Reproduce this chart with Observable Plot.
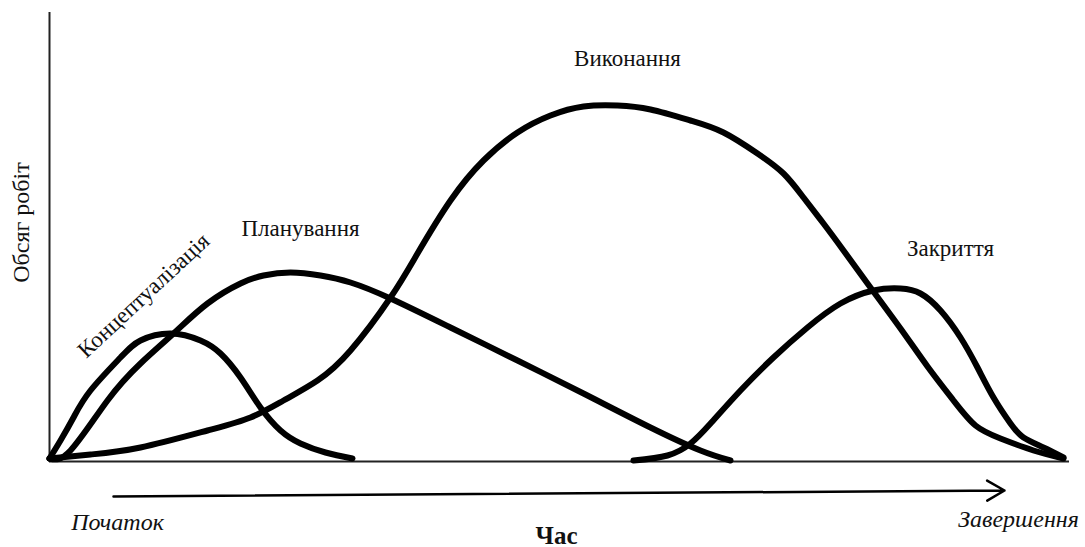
<!DOCTYPE html>
<html>
<head>
<meta charset="utf-8">
<script src="https://cdn.jsdelivr.net/npm/d3@7"></script>
<script src="https://cdn.jsdelivr.net/npm/@observablehq/plot@0.6"></script>
<style>
  html, body { margin: 0; padding: 0; background: #fff; }
  #chart svg { display: block; }
</style>
</head>
<body>
<div id="chart"></div>
<script>
// Phase names
const phases = ["Концептуалізація", "Планування", "Виконання", "Закриття"];

// Time (x) and work volume (y), arbitrary units
const conceptT = [0, 11, 24, 41, 71, 91, 121, 151, 171, 191, 211, 231, 251, 276, 303];
const conceptV = [3, 21, 44, 71, 104, 121, 128, 121, 108, 84, 54, 31, 18, 9, 3];

const planT = [0, 21, 58, 91, 124, 158, 191, 214, 241, 271, 301, 341, 401, 468, 534, 601, 651, 681];
const planV = [3, 11, 61, 98, 128, 158, 178, 186, 189, 186, 179, 163, 134, 101, 68, 34, 11, 1];

const execT = [0, 41, 91, 158, 201, 234, 268, 301, 341, 368, 401, 434, 468, 501, 534, 568, 601, 641, 674, 708, 734, 754, 774, 794, 818, 851, 878, 904, 926, 951, 984, 1014];
const execV = [3, 7, 14, 31, 44, 61, 81, 111, 164, 208, 261, 301, 329, 346, 355, 356, 352, 341, 329, 308, 288, 264, 238, 211, 178, 133, 95, 61, 36, 23, 11, 3];

const closeT = [584, 618, 641, 661, 691, 724, 758, 791, 824, 851, 871, 891, 911, 928, 944, 961, 974, 994, 1014];
const closeV = [1, 6, 18, 38, 71, 104, 134, 158, 171, 173, 168, 151, 124, 94, 64, 38, 24, 14, 4];

// Axis texts
const yTitle = "Обсяг робіт";
const xTitle = "Час";
const startLabel = "Початок";
const endLabel = "Завершення";

// Build a long table for the library
const series = [
  [phases[0], conceptT, conceptV],
  [phases[1], planT, planV],
  [phases[2], execT, execV],
  [phases[3], closeT, closeV]
];
const rows = series.flatMap(([name, ts, vs]) => ts.map((t, i) => ({phase: name, t, v: vs[i]})));

// Label anchors (annotation layout)
const phaseLabels = [
  {text: phases[2], x: 578, y: 403, rotate: 0},
  {text: phases[1], x: 251, y: 233, rotate: 0},
  {text: phases[3], x: 901, y: 213, rotate: 0},
  {text: phases[0], x: 94, y: 166, rotate: -43}
];

const serif = "'Liberation Serif', 'Times New Roman', serif";

const chart = Plot.plot({
  width: 1085,
  height: 547,
  marginLeft: 49,
  marginRight: 16,
  marginTop: 11,
  marginBottom: 86,
  x: {domain: [0, 1020], axis: null},
  y: {domain: [0, 450], axis: null},
  style: {background: "#fff", fontFamily: serif},
  marks: [
    // axes
    Plot.ruleX([0], {y1: 0, y2: 449, stroke: "#222", strokeWidth: 2}),
    Plot.ruleY([0], {x1: 0, x2: 1020, stroke: "#222", strokeWidth: 2}),
    // curves
    Plot.line(rows, {x: "t", y: "v", z: "phase", curve: "natural", stroke: "#000", strokeWidth: 6, strokeLinejoin: "round"}),
    // phase labels
    Plot.text(phaseLabels, {x: "x", y: "y", text: "text", rotate: "rotate", fontSize: 23, fill: "#111", fontFamily: serif}),
    // y title
    Plot.text([yTitle], {x: -28, y: 239, text: d => d, rotate: -90, fontSize: 24, fill: "#111", fontFamily: serif}),
    // time arrow
    Plot.arrow([{x1: 64, y1: -35, x2: 955, y2: -29}], {x1: "x1", y1: "y1", x2: "x2", y2: "y2", stroke: "#000", strokeWidth: 2.5, headLength: 12, bend: 0}),
    // bottom texts
    Plot.text([startLabel], {x: 68, y: -61, text: d => d, fontSize: 24, fontStyle: "italic", fill: "#111", fontFamily: serif}),
    Plot.text([endLabel], {x: 969, y: -58, text: d => d, fontSize: 24, fontStyle: "italic", fill: "#111", fontFamily: serif}),
    Plot.text([xTitle], {x: 507, y: -74, text: d => d, fontSize: 25, fontWeight: "bold", fill: "#111", fontFamily: serif})
  ]
});
document.getElementById("chart").appendChild(chart);
</script>
</body>
</html>
